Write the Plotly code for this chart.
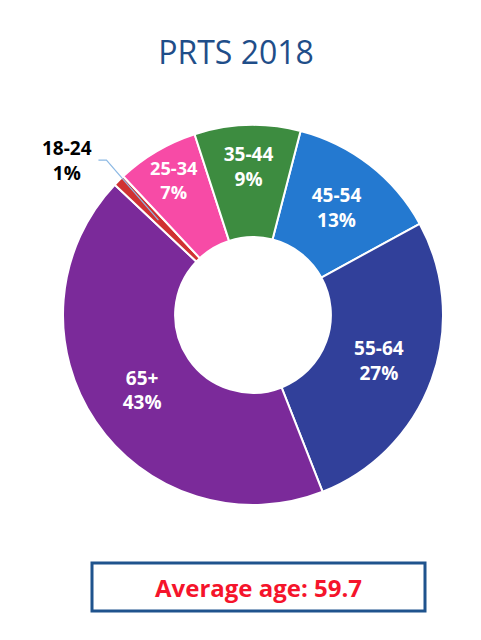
import math
import plotly.graph_objects as go

# age groups, clockwise from the 45-54 slice
age_groups = ['45-54', '55-64', '65+', '18-24', '25-34', '35-44']
shares = [13, 27, 43, 1, 7, 9]
slice_colors = ['#2479D0', '#31409A', '#7B2A9A', '#D03232', '#F74BA6', '#3D8C40']
average_age = 59.7

W, H = 481, 640
ROTATION = 14.5
HOLE = 0.41
# pie box in pixels (left, right, top, bottom)
PL, PR, PT, PB = 63, 443, 125, 505

# the tiny slice gets its label outside with a leader line
callout = '18-24'
positions = ['none' if g == callout else 'inside' for g in age_groups]

fig = go.Figure()

fig.add_trace(go.Pie(
    labels=age_groups,
    values=shares,
    hole=HOLE,
    sort=False,
    direction='clockwise',
    rotation=ROTATION,
    marker=dict(colors=slice_colors, line=dict(color='white', width=2)),
    texttemplate='<b>%{label}<br>%{value}%</b>',
    textposition=positions,
    insidetextorientation='horizontal',
    insidetextfont=dict(family='Open Sans', size=19, color='white'),
    showlegend=False,
    domain=dict(x=[PL / W, PR / W], y=[1 - PB / H, 1 - PT / H]),
))

# point in the middle of the ring, halfway through the callout slice
i = age_groups.index(callout)
frac = (sum(shares[:i]) + shares[i] / 2) / sum(shares)
ang = math.radians(ROTATION + 360 * frac)
R = (PR - PL) / 2
r = R * (1 + HOLE) / 2
cx, cy = (PL + PR) / 2, (PT + PB) / 2
tip_x = cx + r * math.sin(ang)
tip_y = cy - r * math.cos(ang)


def px(x, y):
    return x / W, 1 - y / H


# leader line: short horizontal run from the label, then down to the slice
p0 = px(tip_x - 60, tip_y - 60)
p1 = px(tip_x - 52, tip_y - 60)
p2 = px(tip_x, tip_y)
leader = f'M {p0[0]} {p0[1]} L {p1[0]} {p1[1]} L {p2[0]} {p2[1]}'
lab_x, lab_y = px(tip_x - 91, tip_y - 60)

fig.update_layout(
    width=W,
    height=H,
    margin=dict(l=0, r=0, t=0, b=0),
    paper_bgcolor='white',
    title=dict(
        text='PRTS 2018',
        x=236 / W, xanchor='center',
        y=1 - 53 / H, yanchor='middle',
        font=dict(family='Open Sans', size=32, color='#1F4E89'),
    ),
    shapes=[
        dict(
            type='rect', xref='paper', yref='paper',
            x0=92 / W, x1=425 / W, y0=1 - 611 / H, y1=1 - 563 / H,
            line=dict(color='#1F538D', width=3),
            fillcolor='white',
            layer='below',
        ),
        dict(
            type='path', xref='paper', yref='paper', path=leader,
            line=dict(color='#8DB9E4', width=1.2),
            layer='above',
        ),
    ],
    annotations=[
        dict(
            text=f'<b>{callout}<br>{shares[i]}%</b>',
            xref='paper', yref='paper',
            x=lab_x, y=lab_y,
            xanchor='center', yanchor='middle',
            showarrow=False,
            font=dict(family='Open Sans', size=19, color='black'),
        ),
        dict(
            text=f'<b>Average age: {average_age}</b>',
            xref='paper', yref='paper',
            x=258 / W, y=1 - 587 / H,
            xanchor='center', yanchor='middle',
            showarrow=False,
            font=dict(family='Open Sans', size=24, color='#F5142B'),
        ),
    ],
)

# drop the page's default 8px body margin so the figure sits at the window origin
fig.write_html('out.html', config={'displayModeBar': False},
               post_script="document.body.style.margin='0';")
